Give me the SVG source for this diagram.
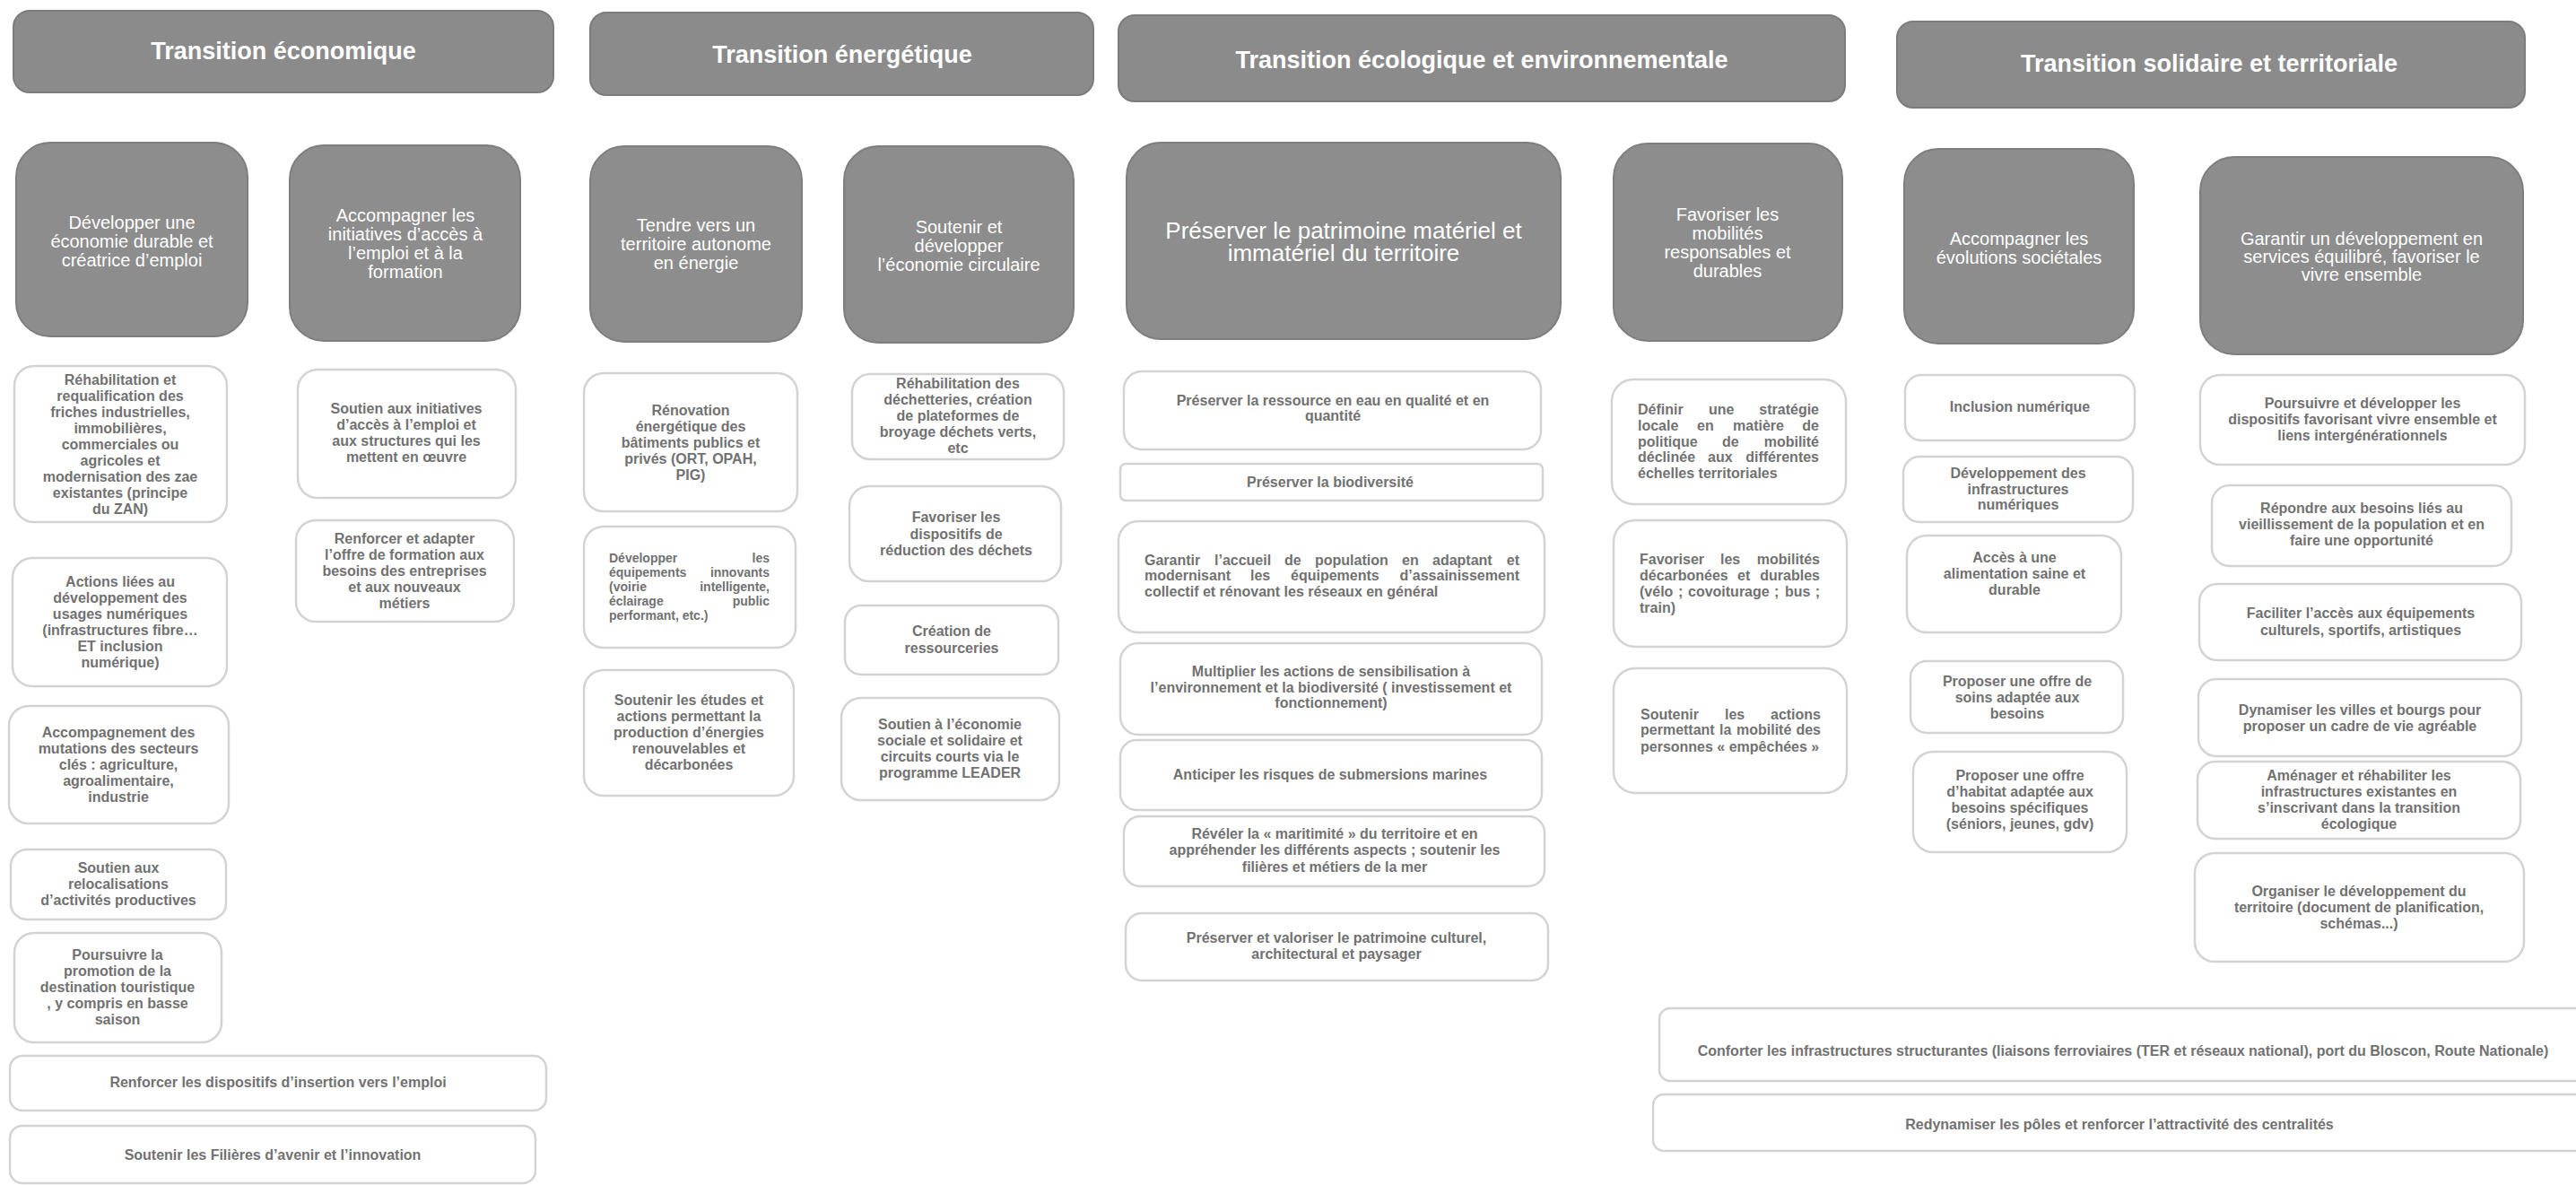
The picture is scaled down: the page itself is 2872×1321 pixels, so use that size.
<svg xmlns="http://www.w3.org/2000/svg" width="2872" height="1321" viewBox="0 0 2872 1321">
<style>
.hdr{fill:#8b8b8b;stroke:#7c7c7c;stroke-width:2}
.sub{fill:#8d8d8d;stroke:#7e7e7e;stroke-width:2}
.box{fill:#ffffff;stroke:#d3d3d3;stroke-width:2.5}
text{font-family:"Liberation Sans",Arial,sans-serif}
.ht{fill:#ffffff;font-size:27px;font-weight:bold;text-anchor:middle}
.st{fill:#ffffff;font-size:20px;text-anchor:middle}
.sl{fill:#ffffff;font-size:26px;text-anchor:middle}
.bt{fill:#717171;font-size:16px;font-weight:bold;text-anchor:middle}
.jt{fill:#717171;font-size:16px;font-weight:bold}
.js{fill:#717171;font-size:14px;font-weight:bold}
.e{text-anchor:end}
</style>
<rect width="2872" height="1321" fill="#ffffff"/>
<g id="headers">
<g id="h1"><rect class="hdr" x="15" y="12" width="602" height="91" rx="18"/><text class="ht" x="316" y="66">Transition économique</text></g>
<g id="h2"><rect class="hdr" x="658" y="14" width="561" height="92" rx="18"/><text class="ht" x="939" y="70">Transition énergétique</text></g>
<g id="h3"><rect class="hdr" x="1247" y="17" width="810" height="96" rx="18"/><text class="ht" x="1652" y="76">Transition écologique et environnementale</text></g>
<g id="h4"><rect class="hdr" x="2115" y="24" width="700" height="96" rx="18"/><text class="ht" x="2463" y="80">Transition solidaire et territoriale</text></g>
</g>
<g id="objectives">
<g id="d1"><rect class="sub" x="18" y="159" width="258" height="216" rx="38"/><text class="st"><tspan x="147" y="255">Développer une</tspan><tspan x="147" y="276">économie durable et</tspan><tspan x="147" y="297">créatrice d’emploi</tspan></text></g>
<g id="d2"><rect class="sub" x="323" y="162" width="257" height="218" rx="38"/><text class="st"><tspan x="452" y="247">Accompagner les</tspan><tspan x="452" y="268">initiatives d’accès à</tspan><tspan x="452" y="289">l’emploi et à la</tspan><tspan x="452" y="310">formation</tspan></text></g>
<g id="d3"><rect class="sub" x="658" y="163" width="236" height="218" rx="38"/><text class="st"><tspan x="776" y="258">Tendre vers un</tspan><tspan x="776" y="279">territoire autonome</tspan><tspan x="776" y="300">en énergie</tspan></text></g>
<g id="d4"><rect class="sub" x="941" y="163" width="256" height="219" rx="38"/><text class="st"><tspan x="1069" y="260">Soutenir et</tspan><tspan x="1069" y="281">développer</tspan><tspan x="1069" y="302">l’économie circulaire</tspan></text></g>
<g id="d5"><rect class="sub" x="1256" y="159" width="484" height="219" rx="38"/><text class="sl"><tspan x="1498" y="266">Préserver le patrimoine matériel et</tspan><tspan x="1498" y="291">immatériel du territoire</tspan></text></g>
<g id="d6"><rect class="sub" x="1799" y="160" width="255" height="220" rx="38"/><text class="st"><tspan x="1926" y="246">Favoriser les</tspan><tspan x="1926" y="267">mobilités</tspan><tspan x="1926" y="288">responsables et</tspan><tspan x="1926" y="309">durables</tspan></text></g>
<g id="d7"><rect class="sub" x="2123" y="166" width="256" height="217" rx="38"/><text class="st"><tspan x="2251" y="273">Accompagner les</tspan><tspan x="2251" y="294">évolutions sociétales</tspan></text></g>
<g id="d8"><rect class="sub" x="2453" y="175" width="360" height="220" rx="38"/><text class="st"><tspan x="2633" y="273">Garantir un développement  en</tspan><tspan x="2633" y="293">services équilibré, favoriser le</tspan><tspan x="2633" y="313">vivre ensemble</tspan></text></g>
</g>
<g id="actions">
<g id="l1"><rect class="box" x="16" y="408" width="237" height="174" rx="22"/><text class="bt"><tspan x="134" y="429">Réhabilitation et</tspan><tspan x="134" y="447">requalification des</tspan><tspan x="134" y="465">friches industrielles,</tspan><tspan x="134" y="483">immobilières,</tspan><tspan x="134" y="501">commerciales ou</tspan><tspan x="134" y="519">agricoles et</tspan><tspan x="134" y="537">modernisation des zae</tspan><tspan x="134" y="555">existantes (principe</tspan><tspan x="134" y="573">du ZAN)</tspan></text></g>
<g id="l2"><rect class="box" x="14" y="622" width="239" height="143" rx="22"/><text class="bt"><tspan x="134" y="654">Actions liées au</tspan><tspan x="134" y="672">développement des</tspan><tspan x="134" y="690">usages numériques</tspan><tspan x="134" y="708">(infrastructures fibre…</tspan><tspan x="134" y="726">ET inclusion</tspan><tspan x="134" y="744">numérique)</tspan></text></g>
<g id="l3"><rect class="box" x="10" y="787" width="245" height="131" rx="22"/><text class="bt"><tspan x="132" y="822">Accompagnement des</tspan><tspan x="132" y="840">mutations des secteurs</tspan><tspan x="132" y="858">clés : agriculture,</tspan><tspan x="132" y="876">agroalimentaire,</tspan><tspan x="132" y="894">industrie</tspan></text></g>
<g id="l4"><rect class="box" x="12" y="947" width="240" height="78" rx="18"/><text class="bt"><tspan x="132" y="973">Soutien aux</tspan><tspan x="132" y="991">relocalisations</tspan><tspan x="132" y="1009">d’activités productives</tspan></text></g>
<g id="l5"><rect class="box" x="16" y="1040" width="231" height="122" rx="22"/><text class="bt"><tspan x="131" y="1070">Poursuivre la</tspan><tspan x="131" y="1088">promotion de la</tspan><tspan x="131" y="1106">destination touristique</tspan><tspan x="131" y="1124">, y compris en basse</tspan><tspan x="131" y="1142">saison</tspan></text></g>
<g id="l6"><rect class="box" x="11" y="1177" width="598" height="61" rx="14"/><text class="bt" x="310" y="1212">Renforcer les dispositifs d’insertion vers l’emploi</text></g>
<g id="l7"><rect class="box" x="11" y="1255" width="586" height="64" rx="14"/><text class="bt" x="304" y="1293">Soutenir les Filières d’avenir et l’innovation</text></g>
<g id="l8"><rect class="box" x="332" y="412" width="243" height="143" rx="22"/><text class="bt"><tspan x="453" y="461">Soutien aux initiatives</tspan><tspan x="453" y="479">d’accès à l’emploi et</tspan><tspan x="453" y="497">aux structures qui les</tspan><tspan x="453" y="515">mettent en œuvre</tspan></text></g>
<g id="l9"><rect class="box" x="330" y="580" width="243" height="113" rx="22"/><text class="bt"><tspan x="451" y="606">Renforcer et adapter</tspan><tspan x="451" y="624">l’offre de formation aux</tspan><tspan x="451" y="642">besoins des entreprises</tspan><tspan x="451" y="660">et aux nouveaux</tspan><tspan x="451" y="678">métiers</tspan></text></g>
<g id="l10"><rect class="box" x="651" y="416" width="238" height="154" rx="22"/><text class="bt"><tspan x="770" y="463">Rénovation</tspan><tspan x="770" y="481">énergétique des</tspan><tspan x="770" y="499">bâtiments publics et</tspan><tspan x="770" y="517">privés (ORT, OPAH,</tspan><tspan x="770" y="535">PIG)</tspan></text></g>
<g id="l11"><rect class="box" x="651" y="587" width="236" height="135" rx="22"/>
<text class="js" x="679" y="627">Développer</text><text class="js e" x="858" y="627">les</text>
<text class="js" x="679" y="643">équipements</text><text class="js e" x="858" y="643">innovants</text>
<text class="js" x="679" y="659">(voirie</text><text class="js e" x="858" y="659">intelligente,</text>
<text class="js" x="679" y="675">éclairage</text><text class="js e" x="858" y="675">public</text>
<text class="js" x="679" y="691">performant, etc.)</text></g>
<g id="l12"><rect class="box" x="651" y="747" width="234" height="140" rx="22"/><text class="bt"><tspan x="768" y="786">Soutenir les études et</tspan><tspan x="768" y="804">actions permettant la</tspan><tspan x="768" y="822">production d’énergies</tspan><tspan x="768" y="840">renouvelables et</tspan><tspan x="768" y="858">décarbonées</tspan></text></g>
<g id="l13"><rect class="box" x="950" y="417" width="236" height="95" rx="20"/><text class="bt"><tspan x="1068" y="433">Réhabilitation des</tspan><tspan x="1068" y="451">déchetteries, création</tspan><tspan x="1068" y="469">de plateformes de</tspan><tspan x="1068" y="487">broyage déchets verts,</tspan><tspan x="1068" y="505">etc</tspan></text></g>
<g id="l14"><rect class="box" x="947" y="542" width="236" height="106" rx="22"/><text class="bt"><tspan x="1066" y="582">Favoriser les</tspan><tspan x="1066" y="601">dispositifs  de</tspan><tspan x="1066" y="619">réduction des déchets</tspan></text></g>
<g id="l15"><rect class="box" x="942" y="675" width="238" height="77" rx="18"/><text class="bt"><tspan x="1061" y="709">Création de</tspan><tspan x="1061" y="728">ressourceries</tspan></text></g>
<g id="l16"><rect class="box" x="938" y="778" width="243" height="114" rx="22"/><text class="bt"><tspan x="1059" y="813">Soutien à l’économie</tspan><tspan x="1059" y="831">sociale et solidaire et</tspan><tspan x="1059" y="849">circuits courts via le</tspan><tspan x="1059" y="867">programme LEADER</tspan></text></g>
<g id="l17"><rect class="box" x="1253" y="414" width="465" height="87" rx="20"/><text class="bt"><tspan x="1486" y="452">Préserver la ressource en eau en qualité et en</tspan><tspan x="1486" y="469">quantité</tspan></text></g>
<g id="l18"><rect class="box" x="1249" y="517" width="471" height="41" rx="6"/><text class="bt" x="1483" y="543">Préserver la biodiversité</text></g>
<g id="l19"><rect class="box" x="1247" y="581" width="475" height="124" rx="22"/>
<text class="jt" x="1276" y="630">Garantir</text><text class="jt" x="1354" y="630">l’accueil</text><text class="jt" x="1432" y="630">de</text><text class="jt" x="1466" y="630">population</text><text class="jt" x="1563" y="630">en</text><text class="jt" x="1597" y="630">adaptant</text><text class="jt e" x="1694" y="630">et</text>
<text class="jt" x="1276" y="647">modernisant</text><text class="jt" x="1394" y="647">les</text><text class="jt" x="1439" y="647">équipements</text><text class="jt e" x="1694" y="647">d’assainissement</text>
<text class="jt" x="1276" y="665">collectif et rénovant les réseaux en général</text></g>
<g id="l20"><rect class="box" x="1249" y="717" width="470" height="102" rx="20"/><text class="bt"><tspan x="1484" y="754">Multiplier les actions de sensibilisation à</tspan><tspan x="1484" y="772">l’environnement et la biodiversité ( investissement et</tspan><tspan x="1484" y="789">fonctionnement)</tspan></text></g>
<g id="l21"><rect class="box" x="1249" y="825" width="470" height="78" rx="18"/><text class="bt" x="1483" y="869">Anticiper les risques de submersions marines</text></g>
<g id="l22"><rect class="box" x="1253" y="910" width="469" height="78" rx="18"/><text class="bt"><tspan x="1488" y="935">Révéler la « maritimité » du territoire et en</tspan><tspan x="1488" y="953">appréhender les différents aspects ; soutenir les</tspan><tspan x="1488" y="972">filières et métiers de la mer</tspan></text></g>
<g id="l23"><rect class="box" x="1255" y="1018" width="471" height="75" rx="18"/><text class="bt"><tspan x="1490" y="1051">Préserver et valoriser le patrimoine culturel,</tspan><tspan x="1490" y="1069">architectural et paysager</tspan></text></g>
<g id="l24"><rect class="box" x="1797" y="423" width="261" height="139" rx="24"/>
<text class="jt" x="1826" y="462">Définir</text><text class="jt" x="1905" y="462">une</text><text class="jt e" x="2028" y="462">stratégie</text>
<text class="jt" x="1826" y="480">locale</text><text class="jt" x="1892" y="480">en</text><text class="jt" x="1932" y="480">matière</text><text class="jt e" x="2028" y="480">de</text>
<text class="jt" x="1826" y="498">politique</text><text class="jt" x="1920" y="498">de</text><text class="jt e" x="2028" y="498">mobilité</text>
<text class="jt" x="1826" y="515">déclinée</text><text class="jt" x="1904" y="515">aux</text><text class="jt e" x="2028" y="515">différentes</text>
<text class="jt" x="1826" y="533">échelles territoriales</text></g>
<g id="l25"><rect class="box" x="1799" y="580" width="260" height="141" rx="24"/>
<text class="jt" x="1828" y="629">Favoriser</text><text class="jt" x="1918" y="629">les</text><text class="jt e" x="2029" y="629">mobilités</text>
<text class="jt" x="1828" y="647">décarbonées</text><text class="jt" x="1937" y="647">et</text><text class="jt e" x="2029" y="647">durables</text>
<text class="jt" x="1828" y="665">(vélo</text><text class="jt" x="1871" y="665">;</text><text class="jt" x="1882" y="665">covoiturage</text><text class="jt" x="1978" y="665">;</text><text class="jt" x="1990" y="665">bus</text><text class="jt e" x="2029" y="665">;</text>
<text class="jt" x="1828" y="683">train)</text></g>
<g id="l26"><rect class="box" x="1799" y="745" width="260" height="139" rx="24"/>
<text class="jt" x="1829" y="802">Soutenir</text><text class="jt" x="1923" y="802">les</text><text class="jt e" x="2030" y="802">actions</text>
<text class="jt" x="1829" y="819">permettant</text><text class="jt" x="1917" y="819">la</text><text class="jt" x="1936" y="819">mobilité</text><text class="jt e" x="2030" y="819">des</text>
<text class="jt" x="1829" y="838">personnes « empêchées »</text></g>
<g id="l27"><rect class="box" x="2124" y="418" width="256" height="73" rx="18"/><text class="bt" x="2252" y="459">Inclusion numérique</text></g>
<g id="l28"><rect class="box" x="2122" y="509" width="256" height="73" rx="18"/><text class="bt"><tspan x="2250" y="533">Développement des</tspan><tspan x="2250" y="551">infrastructures</tspan><tspan x="2250" y="568">numériques</tspan></text></g>
<g id="l29"><rect class="box" x="2126" y="597" width="239" height="108" rx="22"/><text class="bt"><tspan x="2246" y="627">Accès à une</tspan><tspan x="2246" y="645">alimentation saine et</tspan><tspan x="2246" y="663">durable</tspan></text></g>
<g id="l30"><rect class="box" x="2130" y="737" width="237" height="80" rx="18"/><text class="bt"><tspan x="2249" y="765">Proposer une offre de</tspan><tspan x="2249" y="783">soins adaptée aux</tspan><tspan x="2249" y="801">besoins</tspan></text></g>
<g id="l31"><rect class="box" x="2133" y="838" width="238" height="112" rx="22"/><text class="bt"><tspan x="2252" y="870">Proposer une offre</tspan><tspan x="2252" y="888">d’habitat adaptée aux</tspan><tspan x="2252" y="906">besoins spécifiques</tspan><tspan x="2252" y="924">(séniors, jeunes, gdv)</tspan></text></g>
<g id="l32"><rect class="box" x="2453" y="418" width="362" height="100" rx="22"/><text class="bt"><tspan x="2634" y="455">Poursuivre et développer les</tspan><tspan x="2634" y="473">dispositifs favorisant vivre ensemble et</tspan><tspan x="2634" y="491">liens intergénérationnels</tspan></text></g>
<g id="l33"><rect class="box" x="2466" y="541" width="334" height="90" rx="20"/><text class="bt"><tspan x="2633" y="572">Répondre aux besoins liés au</tspan><tspan x="2633" y="590">vieillissement de la population et en</tspan><tspan x="2633" y="608">faire une opportunité</tspan></text></g>
<g id="l34"><rect class="box" x="2452" y="651" width="359" height="85" rx="20"/><text class="bt"><tspan x="2632" y="689">Faciliter l’accès aux équipements</tspan><tspan x="2632" y="708">culturels, sportifs, artistiques</tspan></text></g>
<g id="l35"><rect class="box" x="2451" y="757" width="360" height="86" rx="20"/><text class="bt"><tspan x="2631" y="797">Dynamiser les villes et bourgs pour</tspan><tspan x="2631" y="815">proposer un cadre de vie agréable</tspan></text></g>
<g id="l36"><rect class="box" x="2450" y="849" width="360" height="86" rx="20"/><text class="bt"><tspan x="2630" y="870">Aménager et réhabiliter les</tspan><tspan x="2630" y="888">infrastructures existantes en</tspan><tspan x="2630" y="906">s’inscrivant dans la transition</tspan><tspan x="2630" y="924">écologique</tspan></text></g>
<g id="l37"><rect class="box" x="2447" y="951" width="367" height="121" rx="22"/><text class="bt"><tspan x="2630" y="999">Organiser le développement du</tspan><tspan x="2630" y="1017">territoire (document de planification,</tspan><tspan x="2630" y="1035">schémas...)</tspan></text></g>
<g id="l38"><rect class="box" x="1850" y="1124" width="1060" height="81" rx="12"/><text class="bt" x="2367" y="1177">Conforter les infrastructures structurantes (liaisons ferroviaires (TER et réseaux national), port du Bloscon, Route Nationale)</text></g>
<g id="l39"><rect class="box" x="1843" y="1220" width="1060" height="63" rx="12"/><text class="bt" x="2363" y="1259">Redynamiser les pôles et renforcer l’attractivité des centralités</text></g>
</g>
<g id="connectors"/>
</svg>
